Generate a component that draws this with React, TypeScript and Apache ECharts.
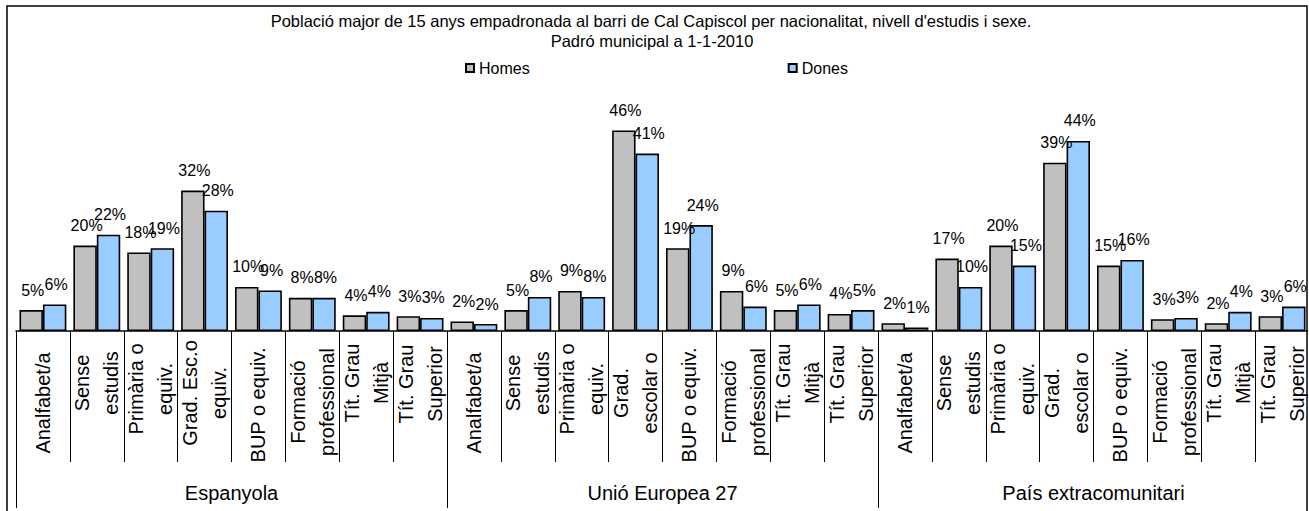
import React, { useEffect, useRef } from "react";
import * as echarts from "echarts";

const titleLine1 =
  "Població major de 15 anys empadronada al barri de Cal Capiscol per nacionalitat, nivell d'estudis i sexe.";
const titleLine2 = "Padró municipal a 1-1-2010";

const groups = ["Espanyola", "Unió Europea 27", "País extracomunitari"];
const levelsEspanyola = [
  "Analfabet/a",
  "Sense\nestudis",
  "Primària o\nequiv.",
  "Grad. Esc.o\nequiv.",
  "BUP o equiv.",
  "Formació\nprofessional",
  "Tít. Grau\nMitjà",
  "Tít. Grau\nSuperior",
];
const levelsAltres = [
  "Analfabet/a",
  "Sense\nestudis",
  "Primària o\nequiv.",
  "Grad.\nescolar o",
  "BUP o equiv.",
  "Formació\nprofessional",
  "Tít. Grau\nMitjà",
  "Tít. Grau\nSuperior",
];
const seriesNames = ["Homes", "Dones"];

// Percentages
const homesEspanyola = [4.8, 19.6, 18.0, 32.2, 10.1, 7.6, 3.6, 3.4];
const donesEspanyola = [6.1, 22.1, 19.0, 27.6, 9.3, 7.6, 4.4, 3.0];
const homesUE27 = [2.2, 4.8, 9.2, 46.0, 19.0, 9.2, 4.8, 3.9];
const donesUE27 = [1.6, 7.8, 7.8, 40.7, 24.3, 5.6, 6.1, 4.8];
const homesExtra = [1.8, 16.6, 19.6, 38.6, 15.0, 2.7, 1.8, 3.4];
const donesExtra = [0.8, 10.1, 15.0, 43.6, 16.3, 3.0, 4.4, 5.6];

const categoryLabels = [...levelsEspanyola, ...levelsAltres, ...levelsAltres];
const categoryIds = categoryLabels.map(
  (l, i) => groups[Math.floor(i / 8)] + " · " + l.replace("\n", " ")
);
const homes = [...homesEspanyola, ...homesUE27, ...homesExtra];
const dones = [...donesEspanyola, ...donesUE27, ...donesExtra];

// layout: centre of each rotated label block, measured below the axis line
const labelCentre = [72, 52, 58, 62, 74, 71, 52, 53];
const LABEL_MARGIN = 4;
const FONT = "Liberation Sans";

export default function App() {
  const ref = useRef<HTMLDivElement>(null);

  useEffect(() => {
    if (!ref.current) return;
    const chart = echarts.init(ref.current, undefined, { renderer: "svg" });

    const rich: Record<string, any> = {};
    labelCentre.forEach((c, k) => {
      rich["c" + k] = {
        width: 2 * (c - LABEL_MARGIN),
        align: "center",
        fontSize: 20,
        lineHeight: 29,
        fontFamily: FONT,
        color: "#000",
      };
    });

    const barLabel = {
      show: true,
      position: "top",
      distance: 12,
      offset: [1.5, 0],
      fontSize: 16,
      fontFamily: FONT,
      color: "#000",
      formatter: (p: any) => Math.round(p.value) + "%",
    };

    chart.setOption({
      animation: false,
      backgroundColor: "#fff",
      textStyle: { fontFamily: FONT },
      legend: {
        data: seriesNames,
        left: 465,
        top: 60,
        padding: 0,
        itemWidth: 8,
        itemHeight: 8,
        itemGap: 258,
        icon: "rect",
        textStyle: { fontSize: 16, fontFamily: FONT, color: "#000" },
      },
      grid: { left: 16, right: 0, top: 113, bottom: 180, containLabel: false },
      xAxis: [
        {
          type: "category",
          position: "bottom",
          data: categoryIds,
          axisLine: { show: true, lineStyle: { color: "#000", width: 1.5 } },
          axisTick: {
            show: true,
            interval: 0,
            length: 131,
            lineStyle: { color: "#000", width: 1 },
          },
          axisLabel: {
            interval: 0,
            rotate: 90,
            align: "right",
            verticalAlign: "middle",
            margin: LABEL_MARGIN,
            formatter: (_v: string, i: number) =>
              categoryLabels[i]
                .split("\n")
                .map((line) => "{c" + (i % 8) + "|" + line + "}")
                .join("\n"),
            rich,
          },
        },
        {
          type: "category",
          position: "bottom",
          data: groups,
          axisLine: { show: false },
          axisTick: {
            show: true,
            interval: 0,
            length: 177,
            lineStyle: { color: "#000", width: 1 },
          },
          axisLabel: {
            interval: 0,
            margin: 162,
            verticalAlign: "middle",
            fontSize: 20,
            fontFamily: FONT,
            color: "#000",
          },
        },
      ],
      yAxis: { type: "value", min: 0, max: 50, show: false },
      series: [
        {
          name: seriesNames[0],
          type: "bar",
          xAxisIndex: 0,
          data: homes,
          barGap: "0%",
          barCategoryGap: "13%",
          itemStyle: { color: "#C0C0C0", borderColor: "#000", borderWidth: 1.6 },
          label: barLabel,
        },
        {
          name: seriesNames[1],
          type: "bar",
          xAxisIndex: 0,
          data: dones,
          barGap: "0%",
          barCategoryGap: "13%",
          itemStyle: { color: "#99CCFF", borderColor: "#000", borderWidth: 1.6 },
          label: barLabel,
        },
      ],
      graphic: [
        {
          type: "text",
          x: 651,
          y: 21,
          silent: true,
          style: {
            text: titleLine1,
            align: "center",
            textAlign: "center",
            verticalAlign: "middle",
            textVerticalAlign: "middle",
            fontSize: 16.5,
            fontFamily: FONT,
            fill: "#000",
          },
        },
        {
          type: "text",
          x: 652,
          y: 41,
          silent: true,
          style: {
            text: titleLine2,
            align: "center",
            textAlign: "center",
            verticalAlign: "middle",
            textVerticalAlign: "middle",
            fontSize: 16.5,
            fontFamily: FONT,
            fill: "#000",
          },
        },
        {
          type: "rect",
          silent: true,
          z: 99,
          shape: { x: 1308, y: 0, width: 10, height: 511 },
          style: { fill: "#fff" },
        },
        {
          type: "rect",
          silent: true,
          z: 100,
          shape: { x: 7, y: 6, width: 1300, height: 540 },
          style: { fill: "none", stroke: "#000", lineWidth: 1.5 },
        },
      ],
    });

    return () => chart.dispose();
  }, []);

  return (
    <div
      ref={ref}
      style={{ position: "absolute", left: 0, top: 0, width: 1309, height: 511 }}
    />
  );
}
